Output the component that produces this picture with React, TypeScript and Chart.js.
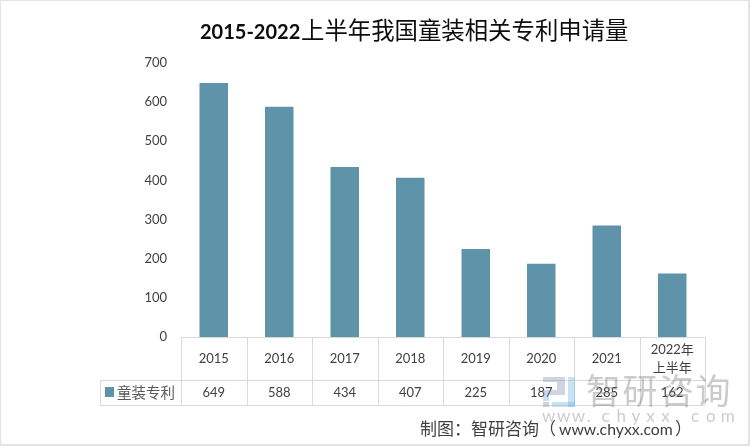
import React, { useEffect, useRef } from "react";
import { Chart, registerables } from "chart.js";

Chart.register(...registerables);

const categories: (string | string[])[] = ["2015", "2016", "2017", "2018", "2019", "2020", "2021", ["2022年", "上半年"]];
const seriesName = "童装专利";
const seriesValues = [649, 588, 434, 407, 225, 187, 285, 162];
const yTicks = [0, 100, 200, 300, 400, 500, 600, 700];
const titleLatin = "2015-2022";
const titleCjk = "上半年我国童装相关专利申请量";
const creditText = ["制图：智研咨询（", "www.chyxx.com", "）"];
const watermarkName = "智研咨询";
const watermarkUrl = ["w", "w", "w", ".", "c", "h", "y", "x", "x", ".", "c", "o", "m"];

const BAR = "#5f93a9";
const LINE = "#d9d9d9";
const LATIN = "Lato, 'Noto Sans CJK SC', sans-serif";
const CJK = "'Noto Sans CJK SC', sans-serif";

const tablePlugin = {
  id: "dataTable",
  afterDraw(chart: any) {
    const { ctx, chartArea } = chart;
    const x = chart.scales.x;
    const n = seriesValues.length;
    const step = x.getPixelForValue(1) - x.getPixelForValue(0);
    const left = x.getPixelForValue(0) - step / 2;
    const right = x.getPixelForValue(n - 1) + step / 2;
    const top = chartArea.bottom;
    const mid = top + 43;
    const bottom = top + 68;
    const legendLeft = 100;
    ctx.save();
    // frame of the picture
    ctx.strokeStyle = "#e3e3e3";
    ctx.lineWidth = 2;
    ctx.strokeRect(0, 0, 749, 445);
    // table grid
    ctx.strokeStyle = LINE;
    ctx.lineWidth = 1;
    ctx.beginPath();
    ctx.moveTo(left, top + 0.5);
    ctx.lineTo(right, top + 0.5);
    ctx.moveTo(legendLeft, mid + 0.5);
    ctx.lineTo(right, mid + 0.5);
    ctx.moveTo(legendLeft, bottom + 0.5);
    ctx.lineTo(right, bottom + 0.5);
    ctx.moveTo(legendLeft + 0.5, mid);
    ctx.lineTo(legendLeft + 0.5, bottom);
    for (let i = 0; i <= n; i++) {
      const px = Math.round(left + i * step) + 0.5;
      ctx.moveTo(px, top);
      ctx.lineTo(px, bottom);
    }
    ctx.stroke();
    // value row
    ctx.textAlign = "center";
    ctx.textBaseline = "middle";
    ctx.font = `13px ${LATIN}`;
    ctx.fillStyle = "#404040";
    seriesValues.forEach((v, i) => ctx.fillText(String(v), x.getPixelForValue(i), mid + 13));
    // legend key
    ctx.fillStyle = BAR;
    ctx.fillRect(105, mid + 7, 9, 10);
    ctx.textAlign = "left";
    ctx.font = `14.5px ${CJK}`;
    ctx.fillStyle = "#595959";
    ctx.fillText(seriesName, 117, mid + 12);
    // title
    ctx.textBaseline = "alphabetic";
    ctx.fillStyle = "#0d0d0d";
    ctx.font = `bold 20px ${LATIN}`;
    ctx.fillText(titleLatin, 200, 39);
    ctx.font = `23.4px ${CJK}`;
    ctx.fillText(titleCjk, 301, 39);
    // watermark
    ctx.globalAlpha = 0.38;
    ctx.fillStyle = "#7f8fb0";
    ctx.fillRect(543, 377, 22, 5);
    ctx.fillRect(557, 382, 8, 8);
    ctx.fillRect(543, 390, 22, 5);
    ctx.fillRect(543, 402, 6, 5);
    ctx.fillStyle = "#6db4e6";
    ctx.fillRect(568, 377, 7, 30);
    ctx.fillRect(552, 402, 23, 5);
    ctx.fillRect(543, 395, 6, 6);
    ctx.fillStyle = "#777777";
    ctx.font = `35px ${CJK}`;
    watermarkName.split("").forEach((ch, i) => ctx.fillText(ch, 586 + i * 36.5, 404));
    ctx.font = `17px ${LATIN}`;
    watermarkUrl.forEach((ch, i) => ctx.fillText(ch, 542 + i * 14.9, 422));
    ctx.globalAlpha = 1;
    // credit
    ctx.fillStyle = "#404040";
    ctx.font = `17px ${CJK}`;
    ctx.fillText(creditText[0], 420, 435);
    ctx.font = `15.8px ${LATIN}`;
    ctx.fillText(creditText[1], 559, 435);
    ctx.font = `17px ${CJK}`;
    ctx.fillText(creditText[2], 675, 435);
    ctx.restore();
  },
};

export default function App() {
  const ref = useRef<HTMLCanvasElement>(null);
  useEffect(() => {
    document.body.style.margin = "0";
    document.body.style.background = "#ffffff";
    const chart = new Chart(ref.current!, {
      type: "bar",
      data: {
        labels: categories as any,
        datasets: [
          {
            label: seriesName,
            data: seriesValues,
            backgroundColor: BAR,
            barPercentage: 1,
            categoryPercentage: 0.435,
          },
        ],
      },
      options: {
        animation: false,
        responsive: false,
        layout: { padding: { top: 63, right: 45, left: 0, bottom: 0 } },
        plugins: { legend: { display: false }, title: { display: false }, tooltip: { enabled: false } },
        scales: {
          x: {
            afterFit: (s: any) => { s.height = 109; },
            grid: { display: false, drawTicks: false },
            border: { display: false },
            ticks: {
              autoSkip: false,
              maxRotation: 0,
              padding: 13,
              crossAlign: "center",
              color: "#404040",
              font: { family: LATIN, size: 13, lineHeight: 1.38 },
            },
          },
          y: {
            min: 0,
            max: 700,
            afterFit: (s: any) => { s.width = 181; },
            afterBuildTicks: (s: any) => { s.ticks = yTicks.map((value) => ({ value })); },
            grid: { display: false, drawTicks: false },
            border: { display: false },
            ticks: { padding: 14, color: "#404040", font: { family: LATIN, size: 13 } },
          },
        },
      },
      plugins: [tablePlugin],
    } as any);
    return () => chart.destroy();
  }, []);
  return <canvas ref={ref} width={750} height={446} style={{ display: "block" }} />;
}
